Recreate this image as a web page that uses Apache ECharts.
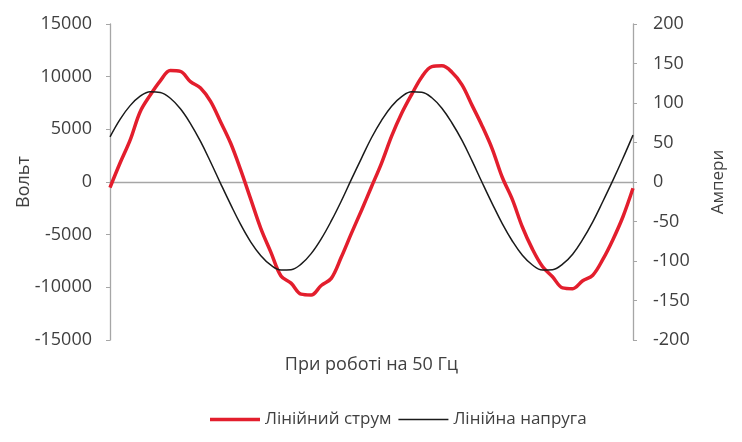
<!DOCTYPE html>
<html>
<head>
<meta charset="utf-8">
<script src="https://cdn.jsdelivr.net/npm/echarts@6/dist/echarts.min.js"></script>
<style>
html,body{margin:0;padding:0;background:#fff;}
#chart{width:742px;height:442px;}
</style>
</head>
<body>
<div id="chart"></div>
<script>
// sample index (two 50 Hz periods)
var categories = [0,1,2,3,4,5,6,7,8,9,10,11,12,13,14,15,16,17,18,19,20,21,22,23,24,25,26,27,28,29,30,31,32,33,34,35,36,37,38,39,40,41,42,43,44,45,46,47,48,49,50,51,52];

// Лінійна напруга, Вольт (left axis)
var voltage = [4280,5950,7250,8150,8570,8500,7950,6950,5550,3850,1900,-150,-2150,-4050,-5700,-7000,-7900,-8350,-8320,-7800,-6800,-5400,-3700,-1800,250,2250,4200,5850,7200,8100,8560,8520,8000,7000,5600,3950,2000,-50,-2050,-3950,-5600,-6950,-7880,-8350,-8330,-7800,-6850,-5450,-3780,-1850,150,2250,4450];

// Лінійний струм, Ампери (right axis)
var current = [-7,24,53,89,110,128,141,140,127,119,102,76,49,15,-22,-59,-89,-119,-128,-142,-143,-131,-122,-95,-65,-36,-6,24,58,87,111,133,146,147,139,123,97,71,42,6,-22,-57,-85,-107,-120,-134,-135,-125,-118,-98,-73,-44,-8];

var yLeftTicks = {min:-15000, max:15000, interval:5000};
var yRightTicks = {min:-200, max:200, interval:50};

var txt = '#404040';
var axisGray = '#a6a6a6';
var font = 'Open Sans';

var chart = echarts.init(document.getElementById('chart'), null, {renderer:'canvas'});
chart.setOption({
  animation:false,
  backgroundColor:'#ffffff',
  textStyle:{fontFamily:font},
  grid:{left:110, right:109, top:24, bottom:102, containLabel:false, outerBoundsMode:'none'},
  legend:{
    left:205, top:406,
    itemWidth:50, itemHeight:14, itemGap:7,
    textStyle:{color:txt, fontSize:17, fontFamily:font},
    data:[
      {name:'Лінійний струм', icon:'path://M0,0H50V3.5H0Z', itemStyle:{color:'#e31e2d'}},
      {name:'Лінійна напруга', icon:'path://M0,0H50V1.4H0Z', itemStyle:{color:'#1a1a1a'}}
    ]
  },
  xAxis:{
    type:'category', data:categories, boundaryGap:false,
    axisLine:{onZero:true, lineStyle:{color:axisGray, width:1.3}},
    axisTick:{show:false}, axisLabel:{show:false}, splitLine:{show:false},
    name:'При роботі на 50 Гц', nameLocation:'middle', nameGap:16, nameMoveOverlap:false,
    nameTextStyle:{color:txt, fontSize:18, fontFamily:font}
  },
  yAxis:[{
    type:'value', position:'left',
    min:yLeftTicks.min, max:yLeftTicks.max, interval:yLeftTicks.interval,
    axisLine:{show:true, onZero:false, lineStyle:{color:axisGray, width:1.3}},
    axisTick:{show:true, length:4, lineStyle:{color:axisGray}},
    axisLabel:{margin:18, color:txt, fontSize:18, fontFamily:font, formatter:function(v){return String(v);}},
    splitLine:{show:false},
    name:'Вольт', nameLocation:'middle', nameRotate:90, nameGap:77, nameMoveOverlap:false,
    nameTextStyle:{color:txt, fontSize:18, fontFamily:font}
  },{
    type:'value', position:'right',
    min:yRightTicks.min, max:yRightTicks.max, interval:yRightTicks.interval,
    axisLine:{show:true, onZero:false, lineStyle:{color:axisGray, width:1.3}},
    axisTick:{show:true, length:4, lineStyle:{color:axisGray}},
    axisLabel:{margin:20, color:txt, fontSize:18, fontFamily:font, formatter:function(v){return String(v);}},
    splitLine:{show:false},
    name:'Ампери', nameLocation:'middle', nameRotate:90, nameGap:77, nameMoveOverlap:false,
    nameTextStyle:{color:txt, fontSize:17, fontFamily:font}
  }],
  series:[{
    name:'Лінійний струм', type:'line', yAxisIndex:1, data:current,
    symbol:'none', smooth:0.35,
    lineStyle:{color:'#e31e2d', width:3.5}, itemStyle:{color:'#e31e2d'}
  },{
    name:'Лінійна напруга', type:'line', yAxisIndex:0, data:voltage,
    symbol:'none', smooth:0.4,
    lineStyle:{color:'#1a1a1a', width:1.5}, itemStyle:{color:'#1a1a1a'}
  }]
});
</script>
</body>
</html>
